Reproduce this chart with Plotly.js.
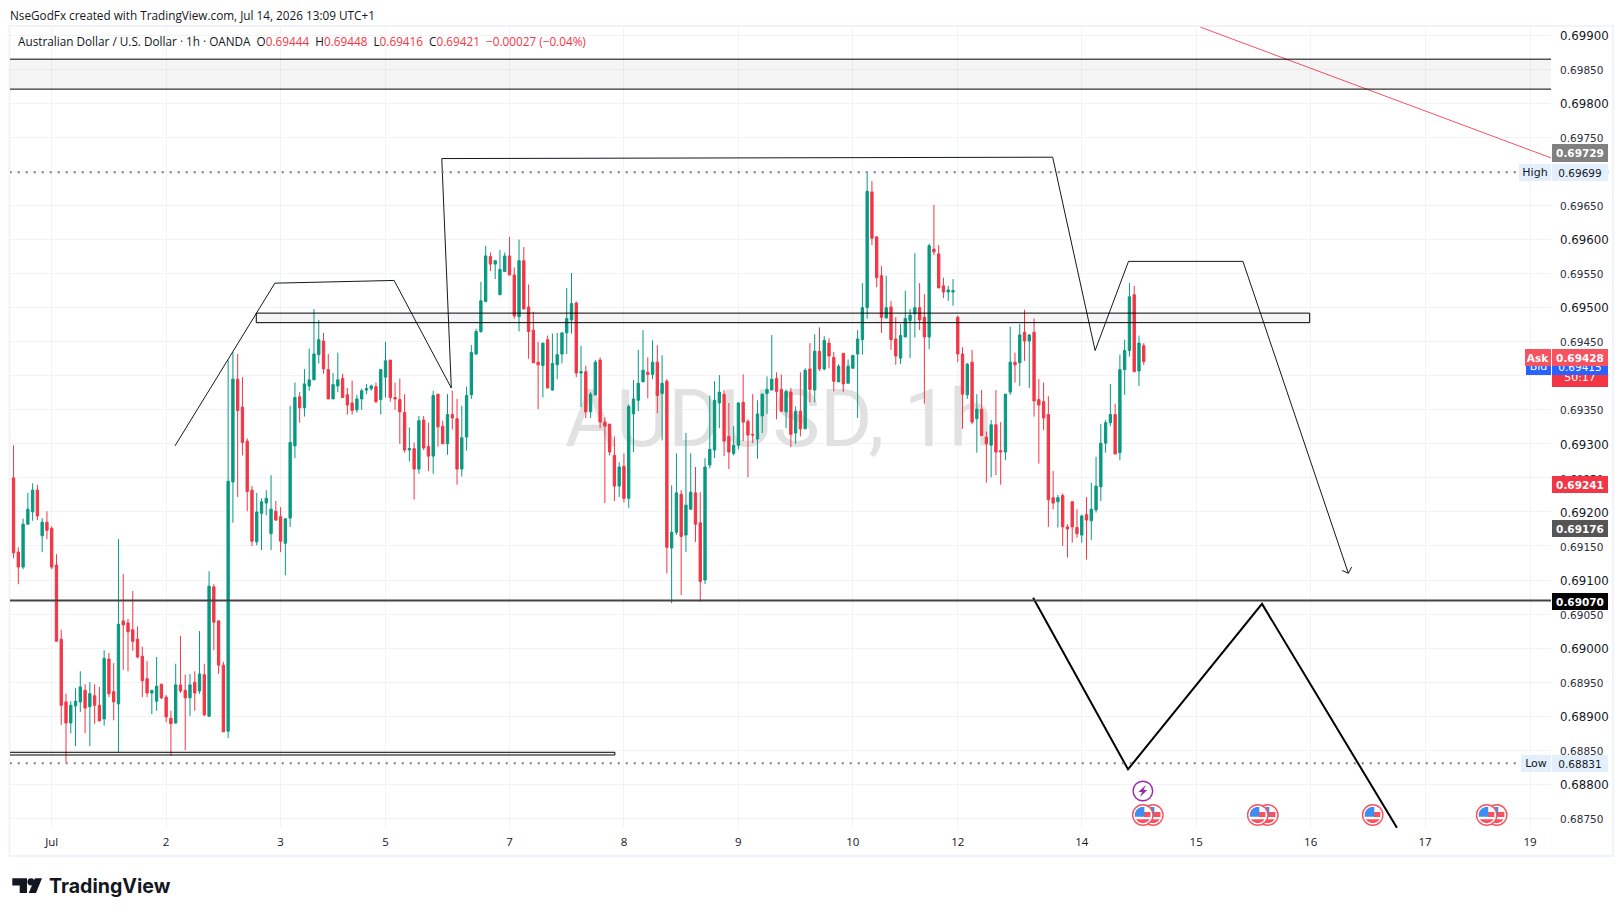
<!DOCTYPE html>
<html><head><meta charset="utf-8">
<script src="https://cdn.plot.ly/plotly-3.0.1.min.js"></script>
<style>html,body{margin:0;padding:0;background:#fff}#c{width:1623px;height:916px}</style>
</head><body><div id="c"></div>
<script>
// Candle values, in 1e-5 USD (pipettes)
const opens=[69250,69141,69119,69182,69200,69232,69165,69185,69176,69122,
69013,68921,68890,68915,68921,68938,68914,68930,68916,68896,
68984,68936,68918,69040,69037,69027,69013,68988,68955,68934,
68922,68947,68928,68897,68890,68946,68938,68927,68950,68937,
68961,68900,69090,69040,68975,68878,69244,69395,69354,69304,
69232,69156,69198,69213,69168,69201,69193,69154,69191,69297,
69369,69353,69385,69394,69431,69451,69409,69366,69385,69396,
69372,69360,69350,69366,69379,69381,69384,69365,69398,69423,
69368,69365,69346,69291,69293,69263,69335,69296,69282,69373,
69326,69300,69343,69337,69263,69310,69372,69432,69465,69509,
69575,69564,69519,69553,69576,69548,69487,69569,69501,69467,
69420,69415,69453,69379,69416,69432,69463,69482,69507,69404,
69406,69347,69372,69423,69332,69329,69283,69238,69267,69220,
69344,69364,69391,69405,69402,69420,69374,69392,69147,69170,
69226,69166,69204,69228,69184,69100,69269,69291,69360,69373,
69311,69286,69298,69361,69333,69314,69307,69341,69374,69379,
69396,69380,69347,69376,69316,69348,69322,69410,69379,69436,
69410,69448,69427,69391,69433,69389,69411,69432,69453,69500,
69670,69604,69547,69485,69501,69454,69426,69457,69481,69491,
69500,69486,69457,69586,69579,69532,69523,69523,69486,69432,
69372,69420,69337,69351,69310,69298,69328,69290,69288,69376,
69420,69419,69464,69451,69464,69365,69362,69343,69221,69215,
69224,69178,69215,69177,69166,69196,69187,69203,69237,69301,
69331,69343,69287,69409,69437,69519,69407,69444];
const closes=[69140,69119,69182,69204,69232,69194,69185,69173,69119,69010,
68916,68890,68916,68922,68943,68912,68933,68916,68893,68985,
68933,68921,69035,69034,69024,69010,68987,68952,68934,68938,
68944,68927,68899,68889,68946,68937,68927,68946,68934,68962,
68902,69091,69038,68975,68877,69245,69395,69349,69302,69230,
69157,69200,69215,69220,69204,69188,69157,69190,69302,69368,
69353,69388,69394,69432,69453,69410,69366,69387,69394,69368,
69357,69349,69366,69378,69381,69385,69362,69409,69422,69368,
69366,69347,69291,69293,69263,69334,69294,69282,69371,69325,
69300,69343,69338,69263,69309,69371,69434,69465,69510,69576,
69564,69569,69556,69576,69548,69488,69569,69498,69465,69419,
69416,69448,69382,69418,69431,69463,69484,69506,69404,69406,
69347,69373,69420,69332,69326,69288,69238,69266,69220,69355,
69366,69389,69408,69402,69420,69371,69389,69148,69170,69228,
69164,69210,69229,69182,69098,69266,69292,69364,69376,69304,
69288,69298,69360,69332,69313,69313,69344,69373,69380,69395,
69377,69348,69377,69314,69348,69322,69408,69380,69436,69410,
69452,69429,69392,69414,69388,69414,69430,69454,69500,69671,
69602,69544,69486,69500,69453,69429,69459,69484,69489,69500,
69482,69457,69591,69582,69529,69523,69526,69525,69432,69373,
69417,69332,69351,69312,69300,69328,69288,69288,69373,69420,
69416,69460,69451,69460,69363,69357,69338,69218,69213,69221,
69178,69175,69178,69168,69194,69188,69204,69238,69301,69331,
69343,69285,69409,69437,69516,69406,69448,69421];
const highs=[69298,69148,69190,69228,69242,69240,69191,69201,69179,69138,
69027,68933,68922,68941,68966,68947,68950,68947,68943,68997,
68993,68978,69160,69109,69043,69084,69032,69002,68981,68938,
68987,68947,68931,68908,68977,69018,68961,68962,68966,69025,
68977,69113,69094,69041,68980,69423,69435,69432,69398,69308,
69238,69228,69220,69232,69254,69216,69207,69191,69356,69390,
69376,69410,69440,69498,69482,69463,69432,69404,69434,69403,
69382,69393,69372,69381,69388,69387,69390,69409,69450,69423,
69390,69396,69373,69324,69302,69341,69341,69331,69378,69373,
69334,69373,69378,69366,69356,69384,69445,69469,69538,69591,
69581,69569,69585,69581,69604,69559,69600,69589,69534,69494,
69450,69448,69459,69462,69463,69463,69529,69551,69509,69444,
69415,69376,69423,69427,69339,69329,69311,69273,69286,69358,
69394,69438,69467,69427,69452,69445,69430,69395,69239,69286,
69232,69316,69286,69266,69229,69279,69371,69392,69401,69379,
69360,69326,69361,69402,69336,69373,69364,69374,69399,69460,
69405,69402,69380,69382,69355,69405,69411,69448,69461,69471,
69458,69455,69435,69417,69433,69424,69430,69467,69536,69698,
69686,69604,69561,69547,69510,69486,69476,69525,69498,69580,
69536,69520,69594,69651,69592,69544,69532,69542,69488,69442,
69419,69438,69373,69379,69318,69335,69379,69332,69373,69472,
69434,69476,69497,69461,69484,69395,69390,69370,69260,69225,
69227,69182,69216,69204,69196,69222,69243,69281,69329,69335,
69388,69359,69431,69453,69536,69532,69459,69448];
const lows=[69132,69094,69116,69182,69187,69188,69141,69160,69116,69010,
68887,68832,68875,68856,68906,68875,68856,68889,68893,68886,
68928,68894,68847,68968,68966,68996,68985,68928,68928,68903,
68908,68925,68891,68842,68889,68934,68850,68900,68908,68933,
68900,68899,68997,68962,68877,68868,69184,69222,69283,69201,
69150,69151,69144,69195,69144,69187,69141,69107,69178,69279,
69331,69340,69378,69394,69418,69403,69366,69366,69376,69368,
69343,69343,69346,69350,69373,69378,69360,69343,69368,69362,
69350,69300,69287,69274,69218,69256,69291,69260,69256,69296,
69300,69284,69321,69240,69252,69290,69366,69431,69463,69509,
69554,69542,69519,69553,69548,69484,69465,69498,69425,69419,
69351,69368,69382,69378,69395,69418,69432,69462,69398,69354,
69338,69338,69371,69323,69213,69283,69216,69222,69214,69206,
69288,69348,69391,69367,69395,69345,69305,69110,69066,69166,
69078,69141,69204,69156,69068,69094,69264,69279,69323,69282,
69263,69283,69292,69304,69251,69301,69278,69316,69344,69379,
69336,69347,69323,69295,69300,69311,69322,69361,69361,69407,
69408,69411,69377,69391,69376,69389,69411,69338,69431,69484,
69592,69530,69463,69484,69438,69416,69417,69457,69426,69456,
69467,69359,69439,69577,69529,69514,69510,69503,69420,69322,
69366,69329,69287,69312,69243,69251,69254,69240,69276,69372,
69390,69385,69422,69382,69340,69271,69320,69178,69204,69177,
69150,69133,69155,69162,69155,69130,69159,69199,69216,69287,
69326,69285,69276,69372,69428,69406,69385,69416];

// Axis ticks
const dateTickBars=[8,32,56,78,104,128,152,176,198,224,248,272,296,318];
const dateTickLabels=['Jul','2','3','5','7','8','9','10','12','14','15','16','17','19'];
const priceTicks=[68750,68800,68850,68900,68950,69000,69050,69100,69150,69200,69250,69300,69350,69400,69450,69500,69550,69600,69650,69700,69750,69800,69850,69900];

// Drawings on the chart (bar number, price in 1e-5)
const pathBars=[33.85,54.8,79.8,91.8,89.8,217.9,226.8,233.8,257.8,279.9];
const pathPrices=[69297,69536,69540,69382,69719,69721,69437,69568,69568,69110];
const arrowBars=[278.6,279.9,280.6];
const arrowPrices=[69114,69110,69119];
const zigBars=[213.8,233.7,261.8,290.1];
const zigPrices=[69074,68822,69065,68736];
const trendBars=[248.9,322.4];
const trendPrices=[69912,69720];
const lineBars=[-0.8,322.4];
const supportPrice=69070, highPrice=69699, lowPrice=68831;
const zoneBars=[[-6,330],[50.9,271.8],[-6,126.1]];
const zonePrices=[[69821,69865],[69478,69492],[68843,68847]];

// Event marker x positions on the bar scale (drawn right to left so the left icon sits on top)
const eventBars=[238.9,236.8,263,260.9,285,311,308.9];
const flashBar=[236.8];

const W=1623,H=916;
const px=v=>v/W, py=v=>1-v/H;
const P=a=>a.map(v=>v/1e5);
const barIdx=opens.map((_,i)=>i);
const GREEN='#089981',RED='#f23645',UI='DejaVu Sans, sans-serif',TXT='"Open Sans", sans-serif';

const line=(x,y,color,width,dash)=>({type:'scatter',mode:'lines',x,y:P(y),hoverinfo:'skip',zorder:3,
  line:{color,width,dash:dash||'solid',simplify:false},showlegend:false});

const traces=[
 {type:'scatter',mode:'text',x:[160.5],y:[0.69326],text:['AUDUSD, 1h'],textposition:'middle center',zorder:0,
  textfont:{family:'Roboto, sans-serif',size:80,color:'#e1e1e1'},hoverinfo:'skip',showlegend:false},
 {type:'candlestick',x:barIdx,open:P(opens),high:P(highs),low:P(lows),close:P(closes),zorder:1,
  increasing:{line:{color:GREEN,width:1},fillcolor:GREEN},
  decreasing:{line:{color:RED,width:1},fillcolor:RED},whiskerwidth:0,hoverinfo:'skip',showlegend:false},
 line(pathBars,pathPrices,'#131722',1),
 line(arrowBars,arrowPrices,'#131722',1),
 line(zigBars,zigPrices,'#000000',2),
 line(trendBars,trendPrices,'#f7525f',1),
 line(lineBars,[supportPrice,supportPrice],'#434343',2),
 line(lineBars,[highPrice,highPrice],'#787b86',2,'2px,6px'),
 line(lineBars,[lowPrice,lowPrice],'#787b86',2,'2px,6px')
];

const grid='#f2f3f6';
const priceLabel=v=>{const s=(v/1e5).toFixed(5);
  return v%100===0?'<span style="font-size:11.8px;fill:#131722">'+s+'</span>':'<span style="fill:#2a2e39">'+s+'</span>';};

const shapes=[];
shapes.push({type:'rect',xref:'paper',yref:'paper',x0:px(9.5),x1:px(1613),y0:py(26),y1:py(856),
  line:{color:'#f0f3fa',width:2},layer:'below'});
zoneBars.forEach((b,i)=>shapes.push({type:'rect',xref:'x',yref:'y',x0:b[0],x1:b[1],
  y0:zonePrices[i][0]/1e5,y1:zonePrices[i][1]/1e5,fillcolor:'rgba(70,70,80,0.055)',line:{color:'#000',width:1},layer:'above'}));

// icon helpers (pixel-placed glyphs, paper coordinates)
const poly=(pts,fill)=>shapes.push({type:'path',xref:'paper',yref:'paper',
  path:'M'+pts.map(p=>px(p[0])+' '+py(p[1])).join('L')+'Z',fillcolor:fill,line:{width:0},layer:'above'});
const ring=(cx,cy,r,fill,stroke,w)=>shapes.push({type:'circle',xref:'paper',yref:'paper',
  x0:px(cx-r),x1:px(cx+r),y0:py(cy+r),y1:py(cy-r),fillcolor:fill,line:{color:stroke,width:w},layer:'above'});
const seg=(cx,cy,r,a0,a1,extra)=>{const pts=[];for(let k=0;k<=14;k++){const a=(a0+(a1-a0)*k/14)*Math.PI/180;pts.push([cx+r*Math.cos(a),cy+r*Math.sin(a)]);}return pts.concat(extra||[]);};
const barPx=i=>13.55+4.769*i;
const panePy=815;
eventBars.forEach(b=>{const cx=barPx(b),cy=panePy;
  ring(cx,cy,10.2,'#ffffff','#f7525f',1.4);
  poly(seg(cx,cy,8,32,148),'#f7525f');
  poly([[cx+1,cy-3],[cx+7.6,cy-3],[cx+7.6,cy+2],[cx+1,cy+2]],'#f7525f');
  poly(seg(cx,cy,8,180,275,[[cx+1.5,cy-8],[cx+1.5,cy+1.7],[cx-8,cy+1.7]]),'#3d8ef0');
});
flashBar.forEach(b=>{const cx=barPx(b),cy=791;
  ring(cx,cy,9.8,'#ffffff','#9c27b0',1.4);
  poly([[cx+3,cy-6],[cx-4.5,cy+1],[cx-0.7,cy+1],[cx-3,cy+6],[cx+4.5,cy-1],[cx+0.7,cy-1]],'#9c27b0');
});
// TradingView mark
poly([[12.3,878.3],[27,878.3],[27,893],[19.7,893],[19.7,885.6],[12.3,885.6]],'#131722');
ring(31,881.8,3.6,'#131722','#131722',0);
poly([[35,878.3],[42,878.3],[36,893],[28.7,893]],'#131722');

// text and price badges
const ann=[];
const note=(x,y,text,font,anchor)=>ann.push({xref:'paper',yref:'paper',x:px(x),y:py(y),text,showarrow:false,
  xanchor:anchor||'left',yanchor:'middle',font,borderpad:0,borderwidth:0,captureevents:false});
const badge=(x0,x1,y0,y1,bg,text,color,size,bold)=>ann.push({xref:'paper',yref:'paper',x:px((x0+x1)/2),y:py((y0+y1)/2),
  width:x1-x0,height:y1-y0,bgcolor:bg,text:bold?'<b>'+text+'</b>':text,showarrow:false,xanchor:'center',yanchor:'middle',
  align:'center',valign:'middle',borderpad:0,borderwidth:0,font:{family:UI,size:size||11,color}});
note(10,15,'NseGodFx created with TradingView.com, Jul 14, 2026 13:09 UTC+1',{family:TXT,size:11.75,color:'#131722'});
const r=s=>'<span style="fill:#f23645">'+s+'</span>';
note(18,41.5,'Australian Dollar / U.S. Dollar · 1h · OANDA\u00a0\u00a0O'+r('0.69444')+'\u00a0\u00a0H'+r('0.69448')+'\u00a0\u00a0L'+r('0.69416')+'\u00a0\u00a0C'+r('0.69421')+'\u00a0\u00a0'+r('−0.00027 (−0.04%)'),{family:TXT,size:11.75,color:'#131722'});
note(48.5,886,'<b>TradingView</b>',{family:'Inter, sans-serif',size:19.6,color:'#131722'});
badge(1552,1608,144,162,'#808080','0.69729','#ffffff',10.5,true);
badge(1519,1551,164,181,'#e3effd','High','#131722',11);
badge(1552,1608,164,181,'#e3effd','0.69699','#131722',10.5);
badge(1552,1608,367,387,'#f23645','50:17','#ffffff',11);
badge(1526,1551,358,375,'#2962ff','Bid','#ffffff',11);
badge(1552,1608,358,375,'#2962ff','0.69415','#ffffff',10.5);
badge(1525,1551,349,366,'#f7525f','Ask','#ffffff',10.5,true);
badge(1552,1608,349,366,'#f7525f','0.69428','#ffffff',10.5,true);
badge(1552,1608,476,493,'#f23645','0.69241','#ffffff',10.5,true);
badge(1552,1608,520,537,'#555555','0.69176','#ffffff',10.5,true);
badge(1552,1608,593,610,'#000000','0.69070','#ffffff',10.5,true);
badge(1521,1551,755,772,'#e3effd','Low','#131722',11);
badge(1552,1608,755,772,'#e3effd','0.68831','#131722',10.5);

const layout={
 width:W,height:H,margin:{l:0,r:0,t:0,b:0,pad:0},paper_bgcolor:'#fff',plot_bgcolor:'#fff',showlegend:false,dragmode:false,
 xaxis:{domain:[px(10),px(1551)],range:[-0.744,322.4],tickmode:'array',tickvals:dateTickBars,ticktext:dateTickLabels,
  showgrid:true,gridcolor:grid,gridwidth:1,zeroline:false,showline:false,ticks:'',ticklabelstandoff:5,
  tickfont:{family:TXT,size:11.5,color:'#131722'},rangeslider:{visible:false},fixedrange:true,anchor:'y',title:{text:''}},
 yaxis:{domain:[py(828),py(26)],range:[0.687358,0.699137],side:'right',anchor:'x',tickmode:'array',
  tickvals:P(priceTicks),ticktext:priceTicks.map(priceLabel),showgrid:true,gridcolor:grid,gridwidth:1,zeroline:false,showline:false,
  ticks:'',ticklabelstandoff:8,ticklabelshift:1,tickfont:{family:UI,size:10.5,color:'#131722'},fixedrange:true,title:{text:''}},
 shapes,annotations:ann
};
Plotly.newPlot('c',traces,layout,{displayModeBar:false,staticPlot:true});
</script></body></html>
